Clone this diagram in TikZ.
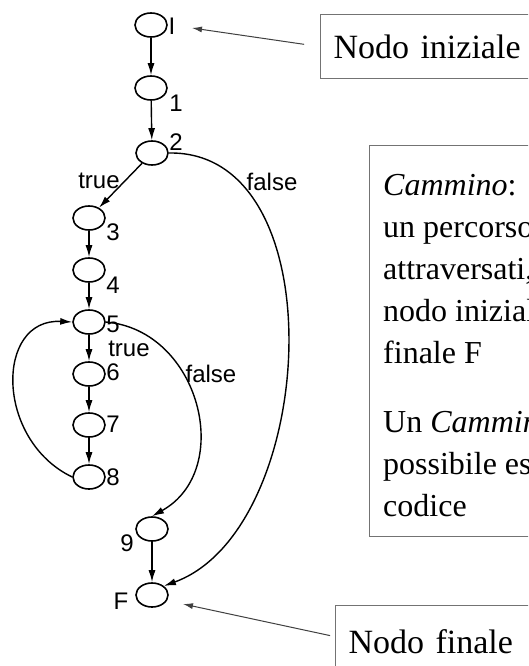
\documentclass[tikz,border=0pt]{standalone}
\usepackage{fontspec}
\setmainfont{Liberation Serif}
\newfontfamily\labfont{Liberation Sans}
\usetikzlibrary{arrows.meta,shapes.geometric}
\begin{document}
\begin{tikzpicture}[x=1pt,y=-1pt,
  vtx/.style={draw, shape=ellipse, minimum width=32pt, minimum height=24pt, inner sep=0pt, line width=1.6pt},
  lab/.style={font=\labfont\fontsize{24}{28}\selectfont, inner sep=0pt},
  edge/.style={line width=1.4pt, -{Latex[length=12pt,width=7pt]}},
  notebox/.style={draw=black!55, line width=1.3pt, anchor=north west, inner xsep=13pt, inner ysep=0pt, align=left, font=\fontsize{34}{40}\selectfont},
  notearrow/.style={draw=black!75, line width=1pt, -{Latex[length=10pt,width=6pt]}},
  ctext/.style={anchor=base west, inner sep=0pt, font=\fontsize{32}{38}\selectfont}
]
\useasboundingbox (0,0) rectangle (528,666);
\clip (0,0) rectangle (528,666);
\fill[white] (0,0) rectangle (528,666);

% graph nodes
\node[vtx] (nI) at (151,25) {};
\node[vtx] (n1) at (151,88) {};
\node[vtx] (n2) at (152,153) {};
\node[vtx] (n3) at (89,218) {};
\node[vtx] (n4) at (89,270) {};
\node[vtx] (n5) at (89,322) {};
\node[vtx] (n6) at (89,374) {};
\node[vtx] (n7) at (89,425) {};
\node[vtx] (n8) at (89,477) {};
\node[vtx] (n9) at (152,529) {};
\node[vtx] (nF) at (152,595) {};

% labels
\node[lab] (lI) at (172,26) {I};
\node[lab] (l1) at (176,103) {1};
\node[lab] (l2) at (176,142) {2};
\node[lab] (ltrueA) at (99,181) {true};
\node[lab] (lfalseA) at (272,182) {false};
\node[lab] (l3) at (113,232) {3};
\node[lab] (l4) at (113,285) {4};
\node[lab] (l5) at (113,324) {5};
\node[lab] (ltrueB) at (129,349) {true};
\node[lab] (l6) at (113,372) {6};
\node[lab] (lfalseB) at (211,374) {false};
\node[lab] (l7) at (113,424) {7};
\node[lab] (l8) at (113,477) {8};
\node[lab] (l9) at (127,543) {9};
\node[lab] (lF) at (121,601) {F};

% edges
\draw[edge] (nI) -- (n1);
\draw[edge] (n1) -- (n2);
\draw[edge] (n2) -- (n3);
\draw[edge] (n3) -- (n4);
\draw[edge] (n4) -- (n5);
\draw[edge] (n5) -- (n6);
\draw[edge] (n6) -- (n7);
\draw[edge] (n7) -- (n8);
\draw[edge] (n9) -- (nF);
\draw[edge] (n8.west) .. controls (-5,440) and (-5,318) .. (n5.west);
\draw[edge] (n5.east) .. controls (200,330) and (235,470) .. (n9.north);
\draw[edge] (n2.east) .. controls (338,150) and (318,530) .. (nF.north east);

% annotation boxes
\node[notebox, text width=214pt, minimum height=64pt] (bI) at (320,14) {Nodo iniziale};
\node[notebox, text width=214pt, minimum height=72pt] (bF) at (335,605) {Nodo finale};
\node[draw=black!55, line width=1.3pt, anchor=north west, minimum width=191pt, minimum height=391pt, inner sep=0pt] (cbox) at (369,145) {};

\node[ctext] (c1) at (383,195) {\textit{Cammino}:};
\node[ctext] (c2) at (383,237) {un percorso};
\node[ctext] (c3) at (383,279) {attraversati,};
\node[ctext] (c4) at (383,321) {nodo iniziale};
\node[ctext] (c5) at (383,363) {finale F};
\node[ctext] (c6) at (383,432) {Un \textit{Cammino}};
\node[ctext] (c7) at (383,474) {possibile es};
\node[ctext] (c8) at (383,516) {codice};

% annotation arrows
\coordinate (tipI) at (192,28);
\coordinate (tipF) at (183,604);
\draw[notearrow, shorten <=16pt] (bI.west) -- (tipI);
\draw[notearrow, shorten <=5pt] ([yshift=5pt]bF.west) -- (tipF);
\end{tikzpicture}
\end{document}
